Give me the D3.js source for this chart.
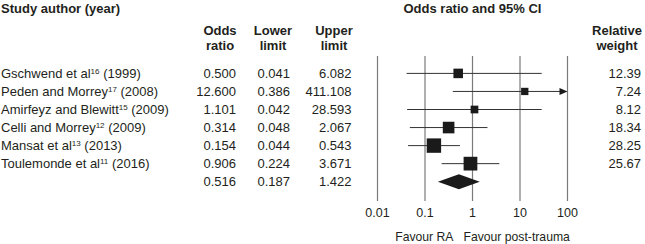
<!DOCTYPE html>
<html>
<meta charset="utf-8">
<head>
  <script src="https://d3js.org/d3.v7.min.js"></script>
  <style>
    body { margin: 0; background: #fff; }
    text { font-family: "Liberation Sans", Arial, sans-serif; fill: #231f20; }
  </style>
</head>
<body>
<script>
  var studies = ["Gschwend et al", "Peden and Morrey", "Amirfeyz and Blewitt", "Celli and Morrey", "Mansat et al", "Toulemonde et al"];
  var refs = ["16", "17", "15", "12", "13", "11"];
  var years = ["1999", "2008", "2009", "2009", "2013", "2016"];
  var oddsRatio = [0.500, 12.600, 1.101, 0.314, 0.154, 0.906];
  var lowerLimit = [0.041, 0.386, 0.042, 0.048, 0.044, 0.224];
  var upperLimit = [6.082, 411.108, 28.593, 2.067, 0.543, 3.671];
  // where the whisker actually ends in the figure (first row is drawn long)
  var drawnUpper = [28.6, 411.108, 28.593, 2.067, 0.543, 3.671];
  var weights = [12.39, 7.24, 8.12, 18.34, 28.25, 25.67];
  var pooled = { or: 0.516, lo: 0.187, hi: 1.422 };
  var ticks = [0.01, 0.1, 1, 10, 100];
  var tickLabels = ["0.01", "0.1", "1", "10", "100"];

  var W = 645, H = 244;
  var svg = d3.select("body").append("svg")
      .attr("width", W)
      .attr("height", H);

  var x = d3.scaleLog().domain([0.01, 100]).range([377.5, 567.5]);
  var y = d3.scaleLinear().domain([0, 6]).range([73.4, 181.7]);
  var size = d3.scaleSqrt().domain([0, 28.25]).range([0, 14.4]);

  var fs = 13;

  // headers
  svg.append("text").attr("x", 1).attr("y", 13)
    .style("font-weight", "bold").style("font-size", fs + "px")
    .text("Study author (year)");
  svg.append("text").attr("x", x(1)).attr("y", 13)
    .attr("text-anchor", "middle")
    .style("font-weight", "bold").style("font-size", fs + "px")
    .text("Odds ratio and 95% CI");

  var cols = [
    { head: ["Odds", "ratio"], hx: 220, rx: 236, vals: oddsRatio, fmt: d3.format(".3f"), pooled: pooled.or },
    { head: ["Lower", "limit"], hx: 273, rx: 290, vals: lowerLimit, fmt: d3.format(".3f"), pooled: pooled.lo },
    { head: ["Upper", "limit"], hx: 334, rx: 351.5, vals: upperLimit, fmt: d3.format(".3f"), pooled: pooled.hi },
    { head: ["Relative", "weight"], hx: 617, rx: 641, vals: weights, fmt: d3.format(".2f"), pooled: null }
  ];

  cols.forEach(function(c) {
    c.head.forEach(function(h, i) {
      svg.append("text").attr("x", c.hx).attr("y", 35 + i * 15)
        .attr("text-anchor", "middle")
        .style("font-weight", "bold").style("font-size", fs + "px")
        .text(h);
    });
    var g = svg.append("g");
    g.selectAll("text").data(c.vals).enter().append("text")
      .attr("x", c.rx)
      .attr("y", function(d, i) { return y(i); })
      .attr("dy", "0.35em")
      .attr("text-anchor", "end")
      .style("font-size", fs + "px")
      .text(function(d) { return c.fmt(d); });
    if (c.pooled != null) {
      g.append("text").attr("x", c.rx).attr("y", y(6)).attr("dy", "0.35em")
        .attr("text-anchor", "end").style("font-size", fs + "px")
        .text(c.fmt(c.pooled));
    }
  });

  // study labels with superscript refs
  var labels = svg.append("g").selectAll("text").data(studies).enter().append("text")
    .attr("x", 1)
    .attr("y", function(d, i) { return y(i) + 4.6; })
    .style("font-size", fs + "px");
  labels.append("tspan").text(function(d) { return d; });
  labels.append("tspan").attr("dy", -4.5).style("font-size", "8px")
    .text(function(d, i) { return refs[i]; });
  labels.append("tspan").attr("dy", 4.5)
    .text(function(d, i) { return " (" + years[i] + ")"; });

  // gridlines
  svg.append("g").selectAll("line").data(ticks).enter().append("line")
    .attr("x1", function(d) { return x(d); })
    .attr("x2", function(d) { return x(d); })
    .attr("y1", 56).attr("y2", 201)
    .attr("stroke", "#7a7a7a").attr("stroke-width", 1.2);

  svg.append("g").selectAll("text").data(ticks).enter().append("text")
    .attr("x", function(d) { return x(d); })
    .attr("y", 213).attr("dy", "0.35em")
    .attr("text-anchor", "middle")
    .style("font-size", "12.5px")
    .text(function(d, i) { return tickLabels[i]; });

  svg.append("text").attr("x", x(1) - 19).attr("y", 237).attr("dy", "0.35em")
    .attr("text-anchor", "end").style("font-size", "12.2px").text("Favour RA");
  svg.append("text").attr("x", x(1) - 9).attr("y", 237).attr("dy", "0.35em")
    .style("font-size", "12.2px").text("Favour post-trauma");

  // whiskers
  var idx = d3.range(studies.length);
  svg.append("g").selectAll("line").data(idx).enter().append("line")
    .attr("x1", function(i) { return x(lowerLimit[i]); })
    .attr("x2", function(i) { return drawnUpper[i] > 100 ? x(100) - 7 : x(drawnUpper[i]); })
    .attr("y1", function(i) { return y(i); })
    .attr("y2", function(i) { return y(i); })
    .attr("stroke", "#333").attr("stroke-width", 1);

  // arrow for CI beyond the axis
  svg.append("g").selectAll("path").data(idx.filter(function(i) { return drawnUpper[i] > 100; }))
    .enter().append("path")
    .attr("d", function(i) {
      var xe = x(100), yc = y(i);
      return "M" + (xe - 8) + "," + (yc - 3.5) + "L" + xe + "," + yc + "L" + (xe - 8) + "," + (yc + 3.5) + "Z";
    })
    .attr("fill", "#1a1a1a");

  // squares
  svg.append("g").selectAll("rect").data(idx).enter().append("rect")
    .attr("x", function(i) { return x(oddsRatio[i]) - size(weights[i]) / 2; })
    .attr("y", function(i) { return y(i) - size(weights[i]) / 2; })
    .attr("width", function(i) { return size(weights[i]); })
    .attr("height", function(i) { return size(weights[i]); })
    .attr("fill", "#1a1a1a");

  // pooled diamond
  var yd = y(6);
  svg.append("path")
    .attr("d", "M" + x(pooled.lo) + "," + yd +
               "L" + x(pooled.or) + "," + (yd - 7.5) +
               "L" + x(pooled.hi) + "," + yd +
               "L" + x(pooled.or) + "," + (yd + 7.5) + "Z")
    .attr("fill", "#1a1a1a");
</script>
</body>
</html>
